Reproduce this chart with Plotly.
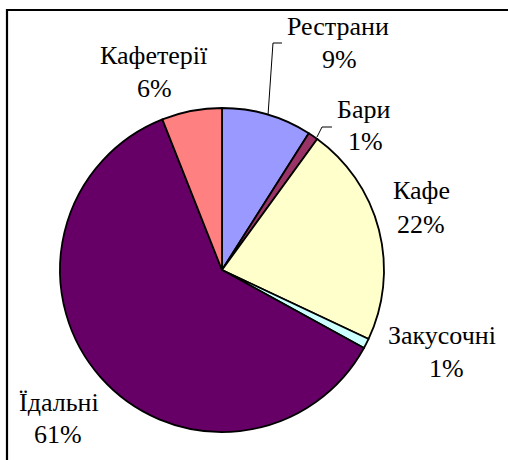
import plotly.graph_objects as go

W, H = 508, 460

categories = ["Рестрани", "Бари", "Кафе", "Закусочні", "Їдальні", "Кафетерії"]
shares = [9, 1, 22, 1, 61, 6]
colors = ["#9999FF", "#993366", "#FFFFCC", "#CCFFFF", "#660066", "#FF8080"]

# label placement (pixel centres of name line and percent line)
name_pos = [(338, 26), (363, 110), (421, 191), (442, 335), (59, 402), (154, 56)]
pct_pos = [(339, 59), (365, 141), (421, 225), (446, 368), (58, 434), (154, 88)]

def px(x):
    return x / W

def py(y):
    return 1 - y / H

cx, cy, r = 222, 270, 162

fig = go.Figure(go.Pie(
    labels=categories,
    values=shares,
    sort=False,
    direction="clockwise",
    rotation=0,
    marker=dict(colors=colors, line=dict(color="black", width=1.8)),
    textinfo="none",
    hoverinfo="label+percent",
    domain=dict(x=[px(cx - r), px(cx + r)], y=[py(cy + r), py(cy - r)]),
    showlegend=False,
))

font = dict(family="Liberation Serif", size=26, color="black")
annotations = []
for name, val, (nx, ny), (qx, qy) in zip(categories, shares, name_pos, pct_pos):
    annotations.append(dict(x=px(nx), y=py(ny), xref="paper", yref="paper", text=name,
                            showarrow=False, xanchor="center", yanchor="middle", font=font))
    annotations.append(dict(x=px(qx), y=py(qy), xref="paper", yref="paper", text=f"{val}%",
                            showarrow=False, xanchor="center", yanchor="middle", font=font))

def path(points):
    return "M " + " L ".join(f"{px(x):.4f},{py(y):.4f}" for x, y in points)

shapes = [
    dict(type="path", xref="paper", yref="paper",
         path=path([(268, 115), (273, 43), (282, 43)]), line=dict(color="black", width=1)),
    dict(type="path", xref="paper", yref="paper",
         path=path([(317, 137), (322, 127), (332, 127)]), line=dict(color="black", width=1)),
    dict(type="rect", xref="paper", yref="paper",
         x0=px(7), y0=-0.05, x1=1.05, y1=py(10), line=dict(color="black", width=2.2)),
]

fig.update_layout(
    width=W, height=H,
    margin=dict(l=0, r=0, t=0, b=0),
    paper_bgcolor="white", plot_bgcolor="white",
    font=dict(family="Liberation Serif"),
    annotations=annotations,
    shapes=shapes,
)

fig.write_html("out.html", post_script="document.body.style.margin='0';",
               config={"displayModeBar": False})
